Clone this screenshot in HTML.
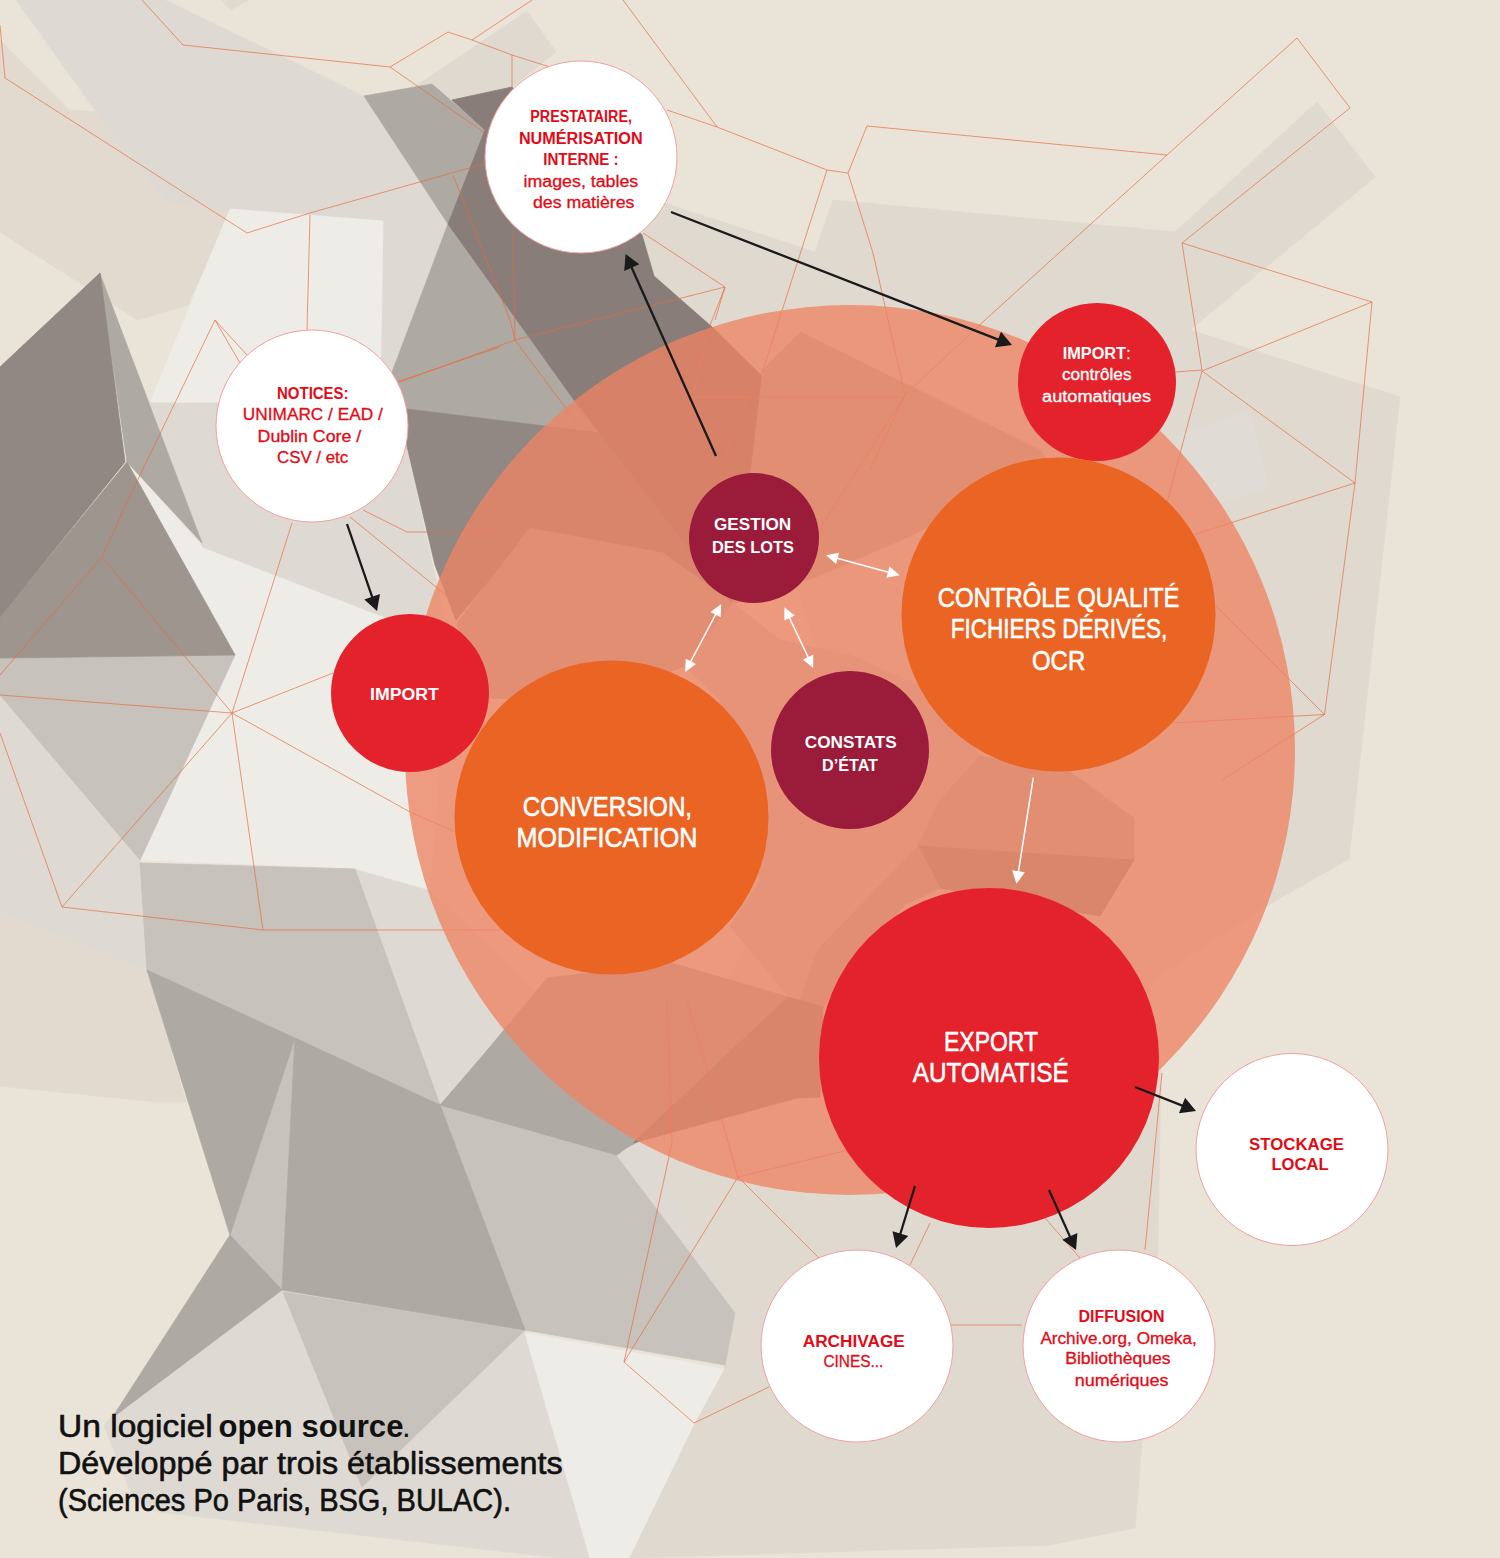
<!DOCTYPE html>
<html><head><meta charset="utf-8"><title>Diagram</title>
<style>
html,body{margin:0;padding:0;background:#EAE3D8;}
body{width:1500px;height:1558px;overflow:hidden;font-family:"Liberation Sans",sans-serif;}
svg{display:block;}
text{font-family:"Liberation Sans",sans-serif;}
</style></head><body>
<svg width="1500" height="1558" viewBox="0 0 1500 1558">
<rect width="1500" height="1558" fill="#EAE3D8"/>
<g shape-rendering="geometricPrecision">
<polygon points="0,40 69,110 97,112 163,202 230,209 188,305 138,320 0,232" fill="#E2D9CF" stroke="#E2D9CF" stroke-width="0.8"/>
<polygon points="0,912 147,970 186,1102 158,1102 0,1086" fill="#E2D9CF" stroke="#E2D9CF" stroke-width="0.8"/>
<polygon points="16,0 165,0 364,96 448,224 391,375 398,408 440,600 455,642 377,615 203,548 150,402 230,209 165,203 96,112" fill="#DEDAD3" stroke="#DEDAD3" stroke-width="0.8"/>
<polygon points="0,695 140,860 147,970 0,912" fill="#DEDAD3" stroke="#DEDAD3" stroke-width="0.8"/>
<polygon points="104,1426 114,1413 282,1290 525,1330 590,1558 560,1558 158,1512 133,1498" fill="#DEDAD3" stroke="#DEDAD3" stroke-width="0.8"/>
<polygon points="355,869 427,888 537,993 440,1105" fill="#DEDAD3" stroke="#DEDAD3" stroke-width="0.8"/>
<polygon points="615,1154 645,1138 737,1179 762,1215 735,1312" fill="#DEDAD3" stroke="#DEDAD3" stroke-width="0.8"/>
<polygon points="655,198 670,205 815,252 833,200 1175,232 1317,102 1375,177 1190,330 1400,397 1349,859 1271,903 1148,983 1161,1068 1158,1248 1135,1528 1050,1545 629,1558 694,1424 724,1369 735,1313 645,1138 850,750 712,327 654,276 642,235" fill="#E0D9CF" stroke="#E0D9CF" stroke-width="0.8"/>
<polygon points="413,88 527,11 556,52 512,87 452,100 432,84" fill="#E0D9CF" stroke="#E0D9CF" stroke-width="0.8"/>
<polygon points="220,0 231.5,9.6 248.5,0" fill="#E0D9CF" stroke="#E0D9CF" stroke-width="0.8"/>
<polygon points="230,209 383,221 380,403 150,402" fill="#EEECE7" stroke="#EEECE7" stroke-width="0.8"/>
<polygon points="127,462 203,548 377,615 450,640 430,890 353,868 140,860 235,655" fill="#EEECE7" stroke="#EEECE7" stroke-width="0.8"/>
<polygon points="525,1333 724,1369 694,1424 629,1558 590,1558" fill="#EEECE7" stroke="#EEECE7" stroke-width="0.8"/>
<polygon points="0,658 235,655 140,860 0,695" fill="#C8C2BC" stroke="#C8C2BC" stroke-width="0.8"/>
<polygon points="140,863 355,869 440,1105 295,1038 147,970" fill="#C8C2BC" stroke="#C8C2BC" stroke-width="0.8"/>
<polygon points="295,1038 282,1290 230,1235" fill="#C8C2BC" stroke="#C8C2BC" stroke-width="0.8"/>
<polygon points="440,1105 615,1154 735,1313 725,1365 525,1330" fill="#C8C2BC" stroke="#C8C2BC" stroke-width="0.8"/>
<polygon points="283,1292 525,1330 362,1487" fill="#C8C2BC" stroke="#C8C2BC" stroke-width="0.8"/>
<polygon points="100,274 127,462 202,543" fill="#AFA9A3" stroke="#AFA9A3" stroke-width="0.8"/>
<polygon points="364,96 432,84 485,130 448,224" fill="#AFA9A3" stroke="#AFA9A3" stroke-width="0.8"/>
<polygon points="448,224 391,375 398,408 601,433 574,400" fill="#AFA9A3" stroke="#AFA9A3" stroke-width="0.8"/>
<polygon points="147,970 295,1038 230,1235" fill="#AFA9A3" stroke="#AFA9A3" stroke-width="0.8"/>
<polygon points="295,1038 440,1105 525,1330 282,1290" fill="#AFA9A3" stroke="#AFA9A3" stroke-width="0.8"/>
<polygon points="230,1235 282,1290 112,1418" fill="#AFA9A3" stroke="#AFA9A3" stroke-width="0.8"/>
<polygon points="440,1105 537,993 645,1138 615,1154" fill="#AFA9A3" stroke="#AFA9A3" stroke-width="0.8"/>
<polygon points="127,462 235,655 0,658 0,617" fill="#9F958F" stroke="#9F958F" stroke-width="0.8"/>
<polygon points="0,367 100,273 125,462 0,617" fill="#918783" stroke="#918783" stroke-width="0.8"/>
<polygon points="398,408 601,433 732,604 664,556 532,530 456,620 435,565" fill="#918783" stroke="#918783" stroke-width="0.8"/>
<polygon points="452,100 512,87 642,235 654,276 712,327 762,376 752,466 732,604 574,400 448,224 485,130" fill="#887D78" stroke="#887D78" stroke-width="0.8"/>
<polygon points="763,370 800,332 1040,450 1045,458 915,534 816,577 732,604 752,463" fill="#B7B0AA" stroke="#B7B0AA" stroke-width="0.8"/>
<polygon points="457,623 530,528 663,553 733,603 684,666 611,700 472,698" fill="#B7B0AA" stroke="#B7B0AA" stroke-width="0.8"/>
<polygon points="760,881 730,926 788,996 823,1008 880,900 940,888 918,846 940,800 980,756 930,690 850,655 780,640 733,603 684,666 720,700" fill="#CFC9C2" stroke="#CFC9C2" stroke-width="0.8"/>
<polygon points="980,756 1070,772 1134,818 1134,860 918,846 940,800" fill="#B7B0AA" stroke="#B7B0AA" stroke-width="0.8"/>
<polygon points="918,846 1134,860 1100,916 940,888" fill="#968C86" stroke="#968C86" stroke-width="0.8"/>
<polygon points="818,949 918,846 940,888 905,905 860,950 823,1007 800,1000" fill="#B9B2AC" stroke="#B9B2AC" stroke-width="0.8"/>
<polygon points="442,1105 547,978 672,963 788,997 633,1143 617,1155" fill="#AFA9A3" stroke="#AFA9A3" stroke-width="0.8"/>
<polygon points="633,1143 788,997 823,1007 820,1097 797,1098" fill="#918783" stroke="#918783" stroke-width="0.8"/>
<polygon points="1173,438 1249,410 1269,488 1199,509" fill="#E0DCD5" stroke="#E0DCD5" stroke-width="0.8"/>
</g>
<g fill="none" stroke="#E8693C" stroke-width="0.8" stroke-opacity="0.85">
<polyline points="0,25 5,78 247,233 310,213 487,163"/>
<polyline points="142,0 183,45 390,67 448,32 472,40 512,55 550,67"/>
<polyline points="472,40 532,0"/>
<polyline points="512,55 512,87"/>
<polyline points="390,67 485,133"/>
<polyline points="623,0 717,127 827,170 848,173 867,126 1167,155 1297,38 1350,108 1182,243 1372,302 1355,483 1324.5,714.5 1222,780"/>
<polyline points="667,110 717,127"/>
<polyline points="827,170 763,370 747,400 700,520"/>
<polyline points="848,173 873,253 905,395 870,470"/>
<polyline points="453,175 510,320 515,340"/>
<polyline points="513,233 515,340"/>
<polyline points="400,382 515,340 725,287 715,320"/>
<polyline points="643,233 725,287"/>
<polyline points="515,340 567,410 653,520"/>
<polyline points="725,287 707,333 693,397 900,397"/>
<polyline points="1167,155 985,320 905,395 800,560"/>
<polyline points="1182,243 1202,370 1175,372"/>
<polyline points="1372,302 1202,371 1355,483"/>
<polyline points="1175,565 1324.5,714.5"/>
<polyline points="1355,483 1193,535 1100,565"/>
<polyline points="1202,371 1165,510"/>
<polyline points="1324.5,714.5 1172,723"/>
<polyline points="232,713 333,673"/>
<polyline points="232,713 292,523"/>
<polyline points="232,713 410,812 467,837"/>
<polyline points="232,713 263,930"/>
<polyline points="232,713 62,907"/>
<polyline points="232,713 0,695"/>
<polyline points="232,713 102,557"/>
<polyline points="102,557 0,675"/>
<polyline points="102,557 128,500 215,320 247,355"/>
<polyline points="215,320 240,363"/>
<polyline points="0,733 62,907 263,930 500,930"/>
<polyline points="310,215 307,330"/>
<polyline points="397,382 500,347"/>
<polyline points="350,517 473,617"/>
<polyline points="363,510 407,532 500,532"/>
<polyline points="667,1000 672,1143 624,1362 694,1423 769,1387"/>
<polyline points="624,1362 738,1177 819,1258"/>
<polyline points="738,1177 687,1000"/>
<polyline points="738,1177 848,1150"/>
<polyline points="930,1223 910,1265"/>
<polyline points="1045,1218 1080,1258"/>
<polyline points="950,1325 1022,1325"/>
<polyline points="1162,1073 1145,1250"/>
</g>
<circle cx="850" cy="750" r="445" fill="#ED8464" fill-opacity="0.78"/>
<circle cx="581" cy="157" r="96" fill="#ffffff" stroke="#F0A0A0" stroke-width="1"/>
<circle cx="312" cy="426" r="96" fill="#ffffff" stroke="#F0A0A0" stroke-width="1"/>
<circle cx="1292" cy="1149.5" r="96" fill="#ffffff" stroke="#F0A0A0" stroke-width="1"/>
<circle cx="857" cy="1346" r="96" fill="#ffffff" stroke="#F0A0A0" stroke-width="1"/>
<circle cx="1119" cy="1346" r="96" fill="#ffffff" stroke="#F0A0A0" stroke-width="1"/>
<circle cx="410" cy="693" r="79" fill="#E4222B"/>
<circle cx="1097" cy="382" r="79" fill="#E4222B"/>
<circle cx="754" cy="538" r="65" fill="#9A1B3A"/>
<circle cx="850" cy="750" r="79" fill="#9A1B3A"/>
<circle cx="611.5" cy="817.5" r="157" fill="#EA6524"/>
<circle cx="1058.5" cy="614.5" r="157" fill="#EA6524"/>
<circle cx="989" cy="1058" r="170" fill="#E4222B"/>
<line x1="716.0" y1="456.0" x2="630.5" y2="265.0" stroke="#1a1a1a" stroke-width="2.3"/><polygon points="625.6,254.0 639.3,264.3 624.2,271.1" fill="#1a1a1a"/><line x1="671.0" y1="212.0" x2="1000.8" y2="340.6" stroke="#1a1a1a" stroke-width="2.3"/><polygon points="1012.0,345.0 995.0,347.3 1001.0,331.8" fill="#1a1a1a"/><line x1="347.0" y1="524.0" x2="373.1" y2="599.7" stroke="#1a1a1a" stroke-width="2.3"/><polygon points="377.0,611.0 364.3,599.5 380.0,594.1" fill="#1a1a1a"/><line x1="1135.0" y1="1087.0" x2="1184.8" y2="1106.6" stroke="#1a1a1a" stroke-width="2.3"/><polygon points="1196.0,1111.0 1179.0,1113.2 1185.1,1097.8" fill="#1a1a1a"/><line x1="915.0" y1="1186.0" x2="899.5" y2="1236.5" stroke="#1a1a1a" stroke-width="2.3"/><polygon points="896.0,1248.0 892.5,1231.2 908.3,1236.1" fill="#1a1a1a"/><line x1="1049.0" y1="1190.0" x2="1071.1" y2="1239.1" stroke="#1a1a1a" stroke-width="2.3"/><polygon points="1076.0,1250.0 1062.3,1239.7 1077.4,1232.9" fill="#1a1a1a"/><polygon points="826.0,555.2 836.1,563.9 839.1,552.7" fill="#ffffff"/><line x1="835.3" y1="557.7" x2="890.3" y2="572.7" stroke="#ffffff" stroke-width="1.5"/><polygon points="899.6,575.2 886.5,577.7 889.5,566.5" fill="#ffffff"/><polygon points="721.2,604.0 710.5,611.9 720.7,617.3" fill="#ffffff"/><line x1="716.7" y1="612.5" x2="689.7" y2="663.5" stroke="#ffffff" stroke-width="1.5"/><polygon points="685.2,672.0 685.7,658.7 695.9,664.1" fill="#ffffff"/><polygon points="784.4,607.2 784.3,620.5 794.8,615.6" fill="#ffffff"/><line x1="788.5" y1="615.9" x2="809.1" y2="659.3" stroke="#ffffff" stroke-width="1.5"/><polygon points="813.2,668.0 802.8,659.6 813.3,654.7" fill="#ffffff"/><line x1="1033.3" y1="777.7" x2="1018.1" y2="873.7" stroke="#ffffff" stroke-width="1.5"/><polygon points="1016.5,883.7 1012.1,870.2 1024.9,872.3" fill="#ffffff"/>
<g>
<text x="530.3" y="122.2" font-size="16" fill="#E20A16" textLength="101.6" lengthAdjust="spacingAndGlyphs" font-weight="bold">PRESTATAIRE,</text>
<text x="518.9" y="143.7" font-size="16" fill="#E20A16" textLength="123.7" lengthAdjust="spacingAndGlyphs" font-weight="bold">NUMÉRISATION</text>
<text x="543.2" y="165.2" font-size="16" fill="#E20A16" textLength="75.4" lengthAdjust="spacingAndGlyphs" font-weight="bold">INTERNE :</text>
<text x="523.6" y="187.4" font-size="16" fill="#E20A16" textLength="114.6" lengthAdjust="spacingAndGlyphs" stroke="#E20A16" stroke-width="0.3" stroke-linejoin="round">images, tables</text>
<text x="533.0" y="207.7" font-size="16" fill="#E20A16" textLength="101.4" lengthAdjust="spacingAndGlyphs" stroke="#E20A16" stroke-width="0.3" stroke-linejoin="round">des matières</text>
<text x="277.0" y="398.8" font-size="16" fill="#E20A16" textLength="71.6" lengthAdjust="spacingAndGlyphs" font-weight="bold">NOTICES:</text>
<text x="242.8" y="420.3" font-size="16" fill="#E20A16" textLength="140.0" lengthAdjust="spacingAndGlyphs" stroke="#E20A16" stroke-width="0.3" stroke-linejoin="round">UNIMARC / EAD /</text>
<text x="257.6" y="441.5" font-size="16" fill="#E20A16" textLength="103.6" lengthAdjust="spacingAndGlyphs" stroke="#E20A16" stroke-width="0.3" stroke-linejoin="round">Dublin Core /</text>
<text x="277.0" y="463.0" font-size="16" fill="#E20A16" textLength="71.2" lengthAdjust="spacingAndGlyphs" stroke="#E20A16" stroke-width="0.3" stroke-linejoin="round">CSV / etc</text>
<text x="370.0" y="700.0" font-size="16" fill="#fff" textLength="68.8" lengthAdjust="spacingAndGlyphs" font-weight="bold">IMPORT</text>
<text x="1062.7" y="358.8" font-size="16" fill="#fff" textLength="63.3" lengthAdjust="spacingAndGlyphs" font-weight="bold">IMPORT</text>
<text x="1126.5" y="358.8" font-size="16" fill="#fff" textLength="3.9" lengthAdjust="spacingAndGlyphs" stroke="#fff" stroke-width="0.3" stroke-linejoin="round">:</text>
<text x="1061.9" y="380.1" font-size="16" fill="#fff" textLength="69.6" lengthAdjust="spacingAndGlyphs" stroke="#fff" stroke-width="0.3" stroke-linejoin="round">contrôles</text>
<text x="1042.1" y="401.5" font-size="16" fill="#fff" textLength="108.9" lengthAdjust="spacingAndGlyphs" stroke="#fff" stroke-width="0.3" stroke-linejoin="round">automatiques</text>
<text x="714.0" y="530.0" font-size="16" fill="#fff" textLength="77.2" lengthAdjust="spacingAndGlyphs" font-weight="bold">GESTION</text>
<text x="712.0" y="553.2" font-size="16" fill="#fff" textLength="82.0" lengthAdjust="spacingAndGlyphs" font-weight="bold">DES LOTS</text>
<text x="804.8" y="748.0" font-size="16" fill="#fff" textLength="92.0" lengthAdjust="spacingAndGlyphs" font-weight="bold">CONSTATS</text>
<text x="822.0" y="771.2" font-size="16" fill="#fff" textLength="56.0" lengthAdjust="spacingAndGlyphs" font-weight="bold">D’ÉTAT</text>
<text x="522.7" y="815.6" font-size="28.5" fill="#fff" textLength="169.4" lengthAdjust="spacingAndGlyphs" stroke="#fff" stroke-width="0.6" stroke-linejoin="round">CONVERSION,</text>
<text x="516.6" y="846.7" font-size="28.5" fill="#fff" textLength="180.7" lengthAdjust="spacingAndGlyphs" stroke="#fff" stroke-width="0.6" stroke-linejoin="round">MODIFICATION</text>
<text x="937.7" y="606.8" font-size="28.5" fill="#fff" textLength="241.8" lengthAdjust="spacingAndGlyphs" stroke="#fff" stroke-width="0.6" stroke-linejoin="round">CONTRÔLE QUALITÉ</text>
<text x="950.8" y="638.1" font-size="28.5" fill="#fff" textLength="216.5" lengthAdjust="spacingAndGlyphs" stroke="#fff" stroke-width="0.6" stroke-linejoin="round">FICHIERS DÉRIVÉS,</text>
<text x="1032.0" y="669.5" font-size="28.5" fill="#fff" textLength="53.2" lengthAdjust="spacingAndGlyphs" stroke="#fff" stroke-width="0.6" stroke-linejoin="round">OCR</text>
<text x="944.0" y="1050.7" font-size="28.5" fill="#fff" textLength="94.0" lengthAdjust="spacingAndGlyphs" stroke="#fff" stroke-width="0.6" stroke-linejoin="round">EXPORT</text>
<text x="912.7" y="1082.0" font-size="28.5" fill="#fff" textLength="156.0" lengthAdjust="spacingAndGlyphs" stroke="#fff" stroke-width="0.6" stroke-linejoin="round">AUTOMATISÉ</text>
<text x="1249.0" y="1149.5" font-size="16" fill="#E20A16" textLength="95.0" lengthAdjust="spacingAndGlyphs" font-weight="bold">STOCKAGE</text>
<text x="1271.5" y="1169.5" font-size="16" fill="#E20A16" textLength="57.0" lengthAdjust="spacingAndGlyphs" font-weight="bold">LOCAL</text>
<text x="802.7" y="1346.6" font-size="16" fill="#E20A16" textLength="102.1" lengthAdjust="spacingAndGlyphs" font-weight="bold">ARCHIVAGE</text>
<text x="823.4" y="1367.3" font-size="16" fill="#E20A16" textLength="59.9" lengthAdjust="spacingAndGlyphs" stroke="#E20A16" stroke-width="0.3" stroke-linejoin="round">CINES...</text>
<text x="1078.5" y="1322.2" font-size="16" fill="#E20A16" textLength="86.0" lengthAdjust="spacingAndGlyphs" font-weight="bold">DIFFUSION</text>
<text x="1040.4" y="1343.7" font-size="16" fill="#E20A16" textLength="156.3" lengthAdjust="spacingAndGlyphs" stroke="#E20A16" stroke-width="0.3" stroke-linejoin="round">Archive.org, Omeka,</text>
<text x="1065.2" y="1364.4" font-size="16" fill="#E20A16" textLength="105.4" lengthAdjust="spacingAndGlyphs" stroke="#E20A16" stroke-width="0.3" stroke-linejoin="round">Bibliothèques</text>
<text x="1074.7" y="1385.9" font-size="16" fill="#E20A16" textLength="93.9" lengthAdjust="spacingAndGlyphs" stroke="#E20A16" stroke-width="0.3" stroke-linejoin="round">numériques</text>
<text x="58.0" y="1436.8" font-size="31" fill="#111" textLength="154.8" lengthAdjust="spacingAndGlyphs" stroke="#111" stroke-width="0.6" stroke-linejoin="round">Un logiciel</text>
<text x="218.4" y="1436.8" font-size="31" fill="#111" textLength="185.1" lengthAdjust="spacingAndGlyphs" font-weight="bold">open source</text>
<text x="402" y="1436.8" font-size="31" fill="#111">.</text>
<text x="58.0" y="1474.1" font-size="31" fill="#111" textLength="504.6" lengthAdjust="spacingAndGlyphs" stroke="#111" stroke-width="0.6" stroke-linejoin="round">Développé par trois établissements</text>
<text x="58.0" y="1510.5" font-size="31" fill="#111" textLength="453.0" lengthAdjust="spacingAndGlyphs" stroke="#111" stroke-width="0.6" stroke-linejoin="round">(Sciences Po Paris, BSG, BULAC).</text>
</g>
</svg>
</body></html>
